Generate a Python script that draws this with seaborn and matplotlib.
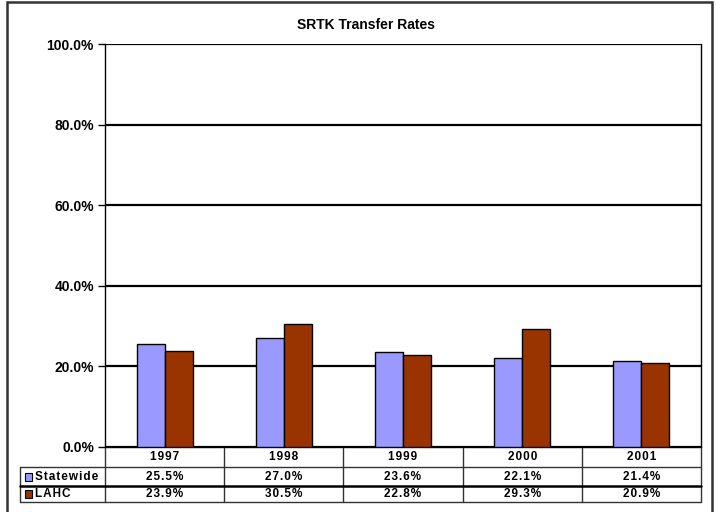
import matplotlib
matplotlib.use("Agg")
import matplotlib.pyplot as plt
import matplotlib.transforms as mtransforms
from matplotlib.patches import Rectangle
import pandas as pd
import seaborn as sns

years = ["1997", "1998", "1999", "2000", "2001"]
series_names = ["Statewide", "LAHC"]
statewide = [25.5, 27.0, 23.6, 22.1, 21.4]
lahc = [23.9, 30.5, 22.8, 29.3, 20.9]
y_ticks = [0, 20, 40, 60, 80, 100]
colors = ["#9999FF", "#993300"]

W, H = 716, 512


def fx(px):
    return px / W


def fy(py):
    return 1 - py / H


df = pd.DataFrame({
    "year": years * 2,
    "rate": statewide + lahc,
    "series": [series_names[0]] * len(years) + [series_names[1]] * len(years),
})

sns.set_theme(style="white")
plt.rcParams["font.family"] = ["Liberation Sans", "DejaVu Sans"]
plt.rcParams["text.color"] = "black"
plt.rcParams["ytick.color"] = "black"
plt.rcParams["xtick.color"] = "black"

fig = plt.figure(figsize=(W / 100, H / 100), dpi=100)
ax = fig.add_axes([fx(105), fy(447), fx(701) - fx(105), fy(44) - fy(447)])

sns.barplot(
    data=df, x="year", y="rate", hue="series", palette=colors, saturation=1,
    width=0.47, edgecolor="black", linewidth=1, legend=False, ax=ax,
    zorder=3,
)

ax.set_ylim(0, 100)
ax.set_xlim(-0.5, len(years) - 0.5)
ax.set_yticks(y_ticks)
ax.set_yticklabels([f"{t:.1f}%" for t in y_ticks], fontsize=10, fontweight="bold")
ax.tick_params(axis="y", direction="out", length=5, width=1, color="black", pad=3, left=True)
ax.set_xticks([])
ax.set_xlabel("")
ax.set_ylabel("")
for t in y_ticks:
    ax.axhline(t, color="black", lw=1.6, zorder=1)
for side in ["left", "right", "bottom"]:
    ax.spines[side].set_color("black")
    ax.spines[side].set_linewidth(1)
ax.spines["top"].set_visible(False)

fig.text(fx(366), fy(25), "SRTK Transfer Rates", ha="center", va="center",
         fontsize=10, fontweight="bold")

# data table under the axis
tr = mtransforms.blended_transform_factory(ax.transData, fig.transFigure)
row_top, row1, row2, row_bot = fy(448), fy(467), fy(486), fy(502)
x0 = fx(20)
lines_kw = dict(color="#333333", lw=1)

for i in range(len(years) + 1):
    fig.add_artist(plt.Line2D([i - 0.5, i - 0.5], [row_top, row_bot], transform=tr, **lines_kw))
fig.add_artist(plt.Line2D([x0, x0], [row1, row_bot], transform=fig.transFigure, **lines_kw))
fig.add_artist(plt.Line2D([x0, fx(701)], [row1, row1], transform=fig.transFigure, **lines_kw))
fig.add_artist(plt.Line2D([x0, fx(701)], [row2, row2], transform=fig.transFigure, color="black", lw=1.8))
fig.add_artist(plt.Line2D([x0, fx(701)], [row_bot, row_bot], transform=fig.transFigure, **lines_kw))

sp = "\u200a"
cell_kw = dict(ha="center", va="center", fontsize=8.5, fontweight="bold")
for i, yr in enumerate(years):
    fig.text(i, (row_top + row1) / 2, sp.join(yr), transform=tr, **cell_kw)
    fig.text(i, (row1 + row2) / 2, sp.join(f"{statewide[i]:.1f}%"), transform=tr, **cell_kw)
    fig.text(i, (row2 + row_bot) / 2, sp.join(f"{lahc[i]:.1f}%"), transform=tr, **cell_kw)

for k, (name, yc) in enumerate(zip(series_names, [(row1 + row2) / 2, (row2 + row_bot) / 2])):
    fig.add_artist(Rectangle((fx(25), yc - 4 / H), 7 / W, 8 / H, transform=fig.transFigure,
                             facecolor=colors[k], edgecolor="black", lw=0.8))
    fig.text(fx(35), yc, sp.join(name), ha="left", va="center", fontsize=8.5, fontweight="bold")

# outer chart frame
fig.add_artist(Rectangle((fx(7), fy(530)), fx(712) - fx(7), fy(2) - fy(530),
                         transform=fig.transFigure, fill=False, edgecolor="#333333", lw=1.8))

fig.savefig("out.png", dpi=100)
